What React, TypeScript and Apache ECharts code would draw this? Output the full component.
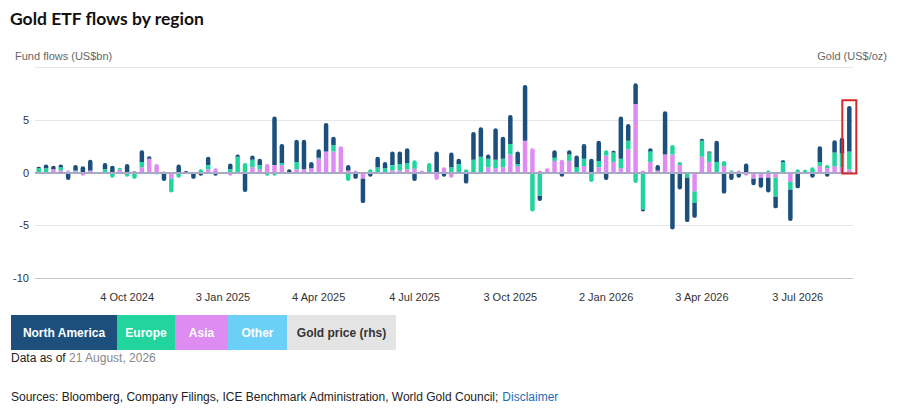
import React, { useEffect, useRef } from "react";
import * as echarts from "echarts";

const MONTHS = ["Jan", "Feb", "Mar", "Apr", "May", "Jun", "Jul", "Aug", "Sep", "Oct", "Nov", "Dec"];
const FIRST_WEEK = Date.UTC(2024, 6, 12);
const WEEK_COUNT = 111;
const CATEGORIES: string[] = Array.from({ length: WEEK_COUNT }, (_, i) => {
  const d = new Date(FIRST_WEEK + i * 7 * 86400000);
  return `${d.getUTCDate()} ${MONTHS[d.getUTCMonth()]} ${d.getUTCFullYear()}`;
});
const TICK_LABELS = ["4 Oct 2024", "3 Jan 2025", "4 Apr 2025", "4 Jul 2025", "3 Oct 2025", "2 Jan 2026", "3 Apr 2026", "3 Jul 2026"];

const NORTH_AMERICA = [
  0.15, 0.35, 0.35, 0.25, -0.7, 0.5, 0.6, 1.0, 0, 0.6,
  0.65, 0, 0.8, 0.1, 1.1, 0.25, 0, -0.8, 0, 0.75,
  0.15, -0.6, -0.3, 0.8, -0.3, 0, 0.55, 0.2, -1.85, 0.4,
  0.6, 0, 4.6, 1.8, 0.3, 2.1, 2.8, 0.6, 0.8, 2.7,
  0.8, 0, 0.5, -0.6, -2.3, -0.4, 1.0, 0.6, 1.3, 1.2,
  1.4, -0.8, 0, 0, 2.0, -0.4, 1.4, 0.5, -1.05, 2.65,
  2.8, 0.4, 3.0, 2.1, 2.75, 1.2, 5.3, 0, -0.5, 0,
  0.7, -0.4, 0.4, 1.1, 1.4, 1.3, 1.9, -0.7, 0.15, 4.0,
  1.6, 1.95, -0.2, 0.3, 0.5, 4.1, -5.4, -1.6, -4.2, -1.4,
  0.2, 0.1, 2.0, -2.0, -0.7, -0.5, 0.85, -0.6, -0.95, -1.4,
  -1.1, 0.15, -3.0, -1.5, 0, -0.5, 1.5, -0.4, 1.15, 1.5,
  4.3,
];
const EUROPE = [
  0.4, 0.4, 0, 0.3, 0, 0.1, 0, 0, -0.15, 0.3,
  -0.5, 0.2, -0.4, -0.6, 0.5, 0, -0.2, 0, -1.3, -0.5,
  0, 0, 0.3, 0.4, 0, -0.1, 0.3, 1.5, 0.9, 0.7,
  0.4, -0.3, -0.3, 0.2, 0, 0.7, 0, 0, 0.1, 0,
  0.6, 0, -0.8, 0, 0, 0.3, 0.5, 0.4, 0.5, 0.6,
  0.6, 0.8, 0, 0.9, 0, 0, 0.5, 0.8, 0.3, 1.2,
  1.5, 0.8, 0.8, 0.8, 1.0, 0.2, 0, -3.7, -2.2, 0,
  0.3, 0, 0.6, 0.5, 0.7, -0.9, 0.6, 0.5, 0.9, 0.9,
  0.8, -1.0, -3.5, 1.0, 0, 0, 0.9, 0.3, -0.5, -1.1,
  1.5, 0.9, 1.0, 0.5, 0.1, 0, 0, 0, 0, 0.2,
  -1.8, 1.0, -0.7, 0.3, 0.2, 0.5, 0.4, 0.3, 1.3, 1.3,
  1.7,
];
const ASIA = [
  0, 0, 0.3, 0.2, 0.1, 0.1, -0.3, 0.2, 0, 0,
  0, 0.2, 0, 0, 0.5, 1.3, 0.8, 0.1, -0.6, 0,
  0, 0, 0, 0.3, 0.4, 0, -0.3, 0, 0, 0.5,
  0.3, 0.8, 0.7, 0.7, 0, 0.3, 0.3, 0.4, 1.3, 2.0,
  2.0, 2.5, 0.2, 0.2, -0.6, 0, 0, 0, 0.2, 0.2,
  0.3, 0.35, 0.2, 0, -0.7, 0.5, -0.5, 0, 0, 0,
  0, 0.5, 0.4, 0.5, 1.7, 0.6, 3.0, 2.3, 0.2, 0.4,
  1.1, 1.2, 1.1, 0, 0.6, 0, 0.5, 1.6, 1.0, 0.4,
  2.2, 6.5, 0.2, 1.0, 0.2, 1.7, 1.7, 0.7, 0, -1.8,
  1.5, 1.0, 0, 0.6, 0.1, 0.2, -0.3, -0.6, -0.5, -0.5,
  -0.5, 0, -0.9, 0, 0, 0, 0.6, 0.4, 0.6, 0.5,
  0.3,
];
const OTHER = [
  0, 0, 0, 0, 0.1, 0, 0, 0, 0, 0,
  0, 0.05, 0, 0, 0, 0, 0, 0, 0, 0,
  0, 0, 0, 0, 0, 0, 0, 0, 0, 0,
  0, 0, 0, 0, 0, 0, 0, 0, 0, 0,
  0, 0, 0, 0, 0, 0, 0, 0, 0, 0,
  0, 0, 0, 0, 0, 0, 0, 0, 0, 0,
  0, 0, 0, 0, 0, 0, 0, 0, 0, 0,
  0, 0, 0, 0, 0, 0, 0, 0, 0, 0,
  0, 0, 0, 0, 0, 0, 0, 0, 0, 0,
  0, 0, 0, 0, 0, 0, 0, 0, 0, 0,
  0, 0, 0, 0, 0.05, 0, 0, 0, 0, 0,
  0,
];

const COLORS = {
  na: "#1c4f7c",
  eu: "#22d49d",
  asia: "#de8cf1",
  other: "#6ccff6",
  gold: "#e4e4e4",
};

const FONT = "'Liberation Sans', Arial, sans-serif";

// stacking order from zero outwards
const STACK = [
  { name: "Other", data: OTHER, color: COLORS.other },
  { name: "Asia", data: ASIA, color: COLORS.asia },
  { name: "Europe", data: EUROPE, color: COLORS.eu },
  { name: "North America", data: NORTH_AMERICA, color: COLORS.na },
];

function buildSeries() {
  const outerPos: number[] = [];
  const outerNeg: number[] = [];
  for (let i = 0; i < WEEK_COUNT; i++) {
    let p = -1;
    let n = -1;
    STACK.forEach((s, k) => {
      if (s.data[i] > 0) p = k;
      if (s.data[i] < 0) n = k;
    });
    outerPos.push(p);
    outerNeg.push(n);
  }
  return STACK.map((s, k) => ({
    name: s.name,
    type: "bar",
    stack: "flows",
    barWidth: 4.5,
    itemStyle: { color: s.color },
    data: s.data.map((v, i) => {
      let r: number[] = [0, 0, 0, 0];
      if (v > 0 && outerPos[i] === k) r = [2.2, 2.2, 0, 0];
      if (v < 0 && outerNeg[i] === k) r = [0, 0, 2.2, 2.2];
      return { value: v, itemStyle: { borderRadius: r } };
    }),
    ...(k === STACK.length - 1
      ? {
          markLine: {
            silent: true,
            symbol: "none",
            label: { show: false },
            z: 10,
            lineStyle: { color: "#a7a9c6", width: 2, type: "solid" },
            data: [{ yAxis: 0 }],
          },
        }
      : {}),
  }));
}

const LEGEND = [
  { label: "North America", bg: COLORS.na, fg: "#ffffff", w: 106 },
  { label: "Europe", bg: COLORS.eu, fg: "#ffffff", w: 58 },
  { label: "Asia", bg: COLORS.asia, fg: "#ffffff", w: 53 },
  { label: "Other", bg: COLORS.other, fg: "#ffffff", w: 59 },
  { label: "Gold price (rhs)", bg: COLORS.gold, fg: "#333333", w: 109 },
];

function legendGraphics() {
  const out: any[] = [];
  let x = 11;
  LEGEND.forEach((l, i) => {
    out.push({
      type: "rect",
      id: "lg" + i,
      shape: { x, y: 315, width: l.w, height: 35 },
      style: { fill: l.bg },
      silent: true,
    });
    out.push({
      type: "text",
      id: "lt" + i,
      x: x + l.w / 2,
      y: 332.5,
      style: {
        text: l.label,
        fill: l.fg,
        font: `bold 12px ${FONT}`,
        textAlign: "center",
        textVerticalAlign: "middle",
      },
      silent: true,
    });
    x += l.w;
  });
  return out;
}

export default function App() {
  const ref = useRef<HTMLDivElement>(null);
  useEffect(() => {
    if (!ref.current) return;
    const chart = echarts.init(ref.current, null, { renderer: "svg" });
    chart.setOption({
      animation: false,
      backgroundColor: "#ffffff",
      textStyle: { fontFamily: FONT },
      grid: { left: 35, right: 47, top: 67, bottom: 132, containLabel: false },
      xAxis: {
        type: "category",
        data: CATEGORIES,
        position: "bottom",
        axisLine: { onZero: false, lineStyle: { color: "#c8c8c8", width: 1 } },
        axisTick: {
          alignWithLabel: true,
          interval: (i: number) => TICK_LABELS.indexOf(CATEGORIES[i]) >= 0,
          length: 6,
          lineStyle: { color: "#9a9a9a" },
        },
        axisLabel: {
          interval: (i: number) => TICK_LABELS.indexOf(CATEGORIES[i]) >= 0,
          color: "#333333",
          fontSize: 11,
          margin: 13,
        },
        splitLine: { show: false },
      },
      yAxis: {
        type: "value",
        min: -10,
        max: 10,
        interval: 5,
        axisLine: { show: false },
        axisTick: { show: false },
        axisLabel: {
          color: "#333333",
          fontSize: 11,
          margin: 6,
          showMaxLabel: false,
          formatter: (v: number) => (v === 10 ? "" : String(v)),
        },
        splitLine: { lineStyle: { color: "#e6e6e6", width: 1 } },
      },
      series: buildSeries(),
      graphic: [
        {
          type: "text",
          id: "title",
          x: 10,
          y: 9,
          style: { text: "Gold ETF flows by region", fill: "#111111", font: `bold 17.5px Lato, ${FONT}` },
          silent: true,
        },
        {
          type: "text",
          id: "yl",
          x: 15,
          y: 56,
          style: {
            text: "Fund flows (US$bn)",
            fill: "#666666",
            font: `11px ${FONT}`,
            textVerticalAlign: "middle",
          },
          silent: true,
        },
        {
          type: "text",
          id: "yr",
          x: 887,
          y: 56,
          style: {
            text: "Gold (US$/oz)",
            fill: "#666666",
            font: `11px ${FONT}`,
            textAlign: "right",
            textVerticalAlign: "middle",
          },
          silent: true,
        },
        ...legendGraphics(),
        {
          type: "text",
          id: "asof",
          x: 11,
          y: 358,
          style: {
            text: "{a|Data as of }{b|21 August, 2026}",
            textVerticalAlign: "middle",
            rich: {
              a: { fill: "#222222", font: `12px ${FONT}` },
              b: { fill: "#888888", font: `12px ${FONT}` },
            },
          },
          silent: true,
        },
        {
          type: "text",
          id: "src",
          x: 11,
          y: 397,
          style: {
            text:
              "{a|Sources: Bloomberg, Company Filings, ICE Benchmark Administration, World Gold Council; }{b|Disclaimer}",
            textVerticalAlign: "middle",
            rich: {
              a: { fill: "#222222", font: `12px ${FONT}` },
              b: { fill: "#1b6db8", font: `12px ${FONT}` },
            },
          },
          silent: true,
        },
      ],
    });

    const last = CATEGORIES[CATEGORIES.length - 1];
    const cx = chart.convertToPixel({ xAxisIndex: 0 }, last) as number;
    const yTop = chart.convertToPixel({ yAxisIndex: 0 }, 6.85) as number;
    const yBot = chart.convertToPixel({ yAxisIndex: 0 }, -0.1) as number;
    chart.setOption({
      graphic: [
        {
          type: "rect",
          id: "hl",
          shape: { x: cx - 7, y: yTop, width: 14, height: yBot - yTop },
          style: { fill: "none", stroke: "#d42a2a", lineWidth: 2 },
          z: 100,
          silent: true,
        },
      ],
    });

    return () => chart.dispose();
  }, []);
  return (
    <div
      ref={ref}
      style={{ position: "absolute", left: 0, top: 0, width: 900, height: 410 }}
    />
  );
}
